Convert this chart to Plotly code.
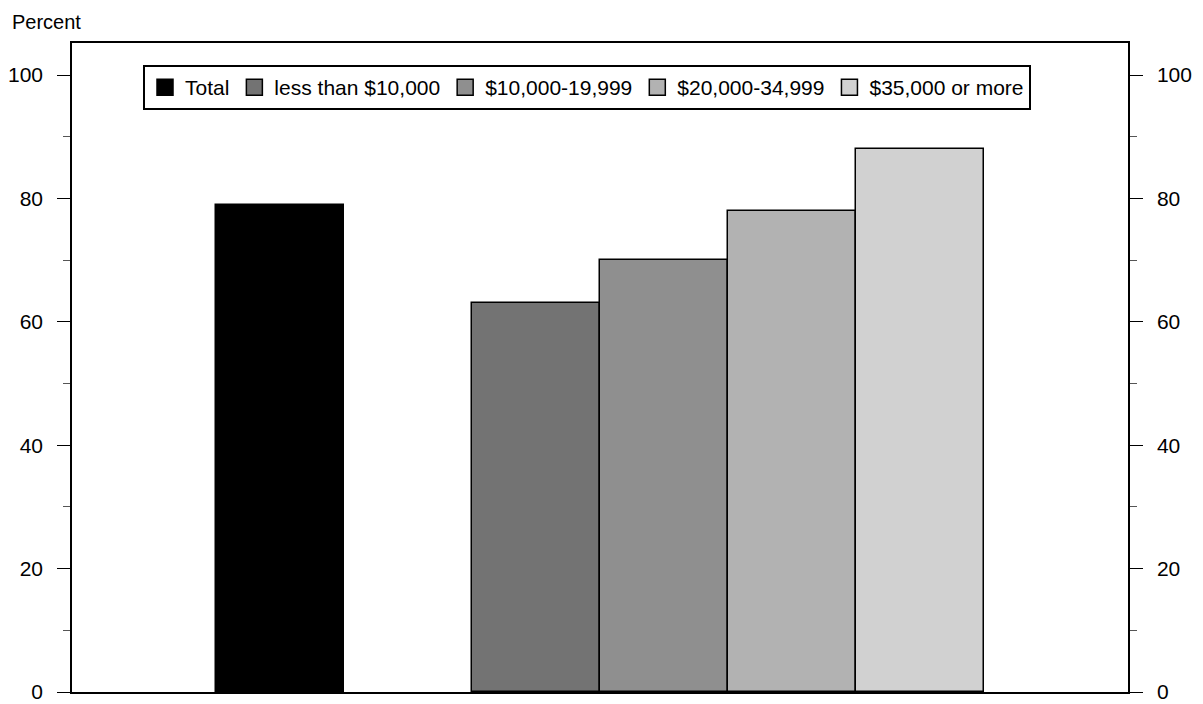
import plotly.graph_objects as go

categories = ["Total", "less than $10,000", "$10,000-19,999", "$20,000-34,999", "$35,000 or more"]
values = [79, 63, 70, 78, 88]
colors = ["#000000", "#737373", "#8f8f8f", "#b2b2b2", "#d1d1d1"]
y_ticks = [0, 20, 40, 60, 80, 100]

# bar positions: Total alone, income groups adjacent after a gap
positions = [0, 2, 3, 4, 5]

FONT = "Liberation Sans, Arial, sans-serif"

fig = go.Figure()
for cat, val, col, pos in zip(categories, values, colors, positions):
    fig.add_trace(go.Bar(
        x=[pos], y=[val], width=1.0, name=cat,
        marker=dict(color=col, line=dict(color="black", width=1.5)),
        showlegend=False, hoverinfo="name+y",
    ))
# legend proxies (larger square symbols)
for cat, col in zip(categories, colors):
    fig.add_trace(go.Scatter(
        x=[None], y=[None], mode="markers", name=cat,
        marker=dict(symbol="square", size=16, color=col, line=dict(color="black", width=1.5)),
    ))
# invisible trace for right axis
fig.add_trace(go.Scatter(x=[0], y=[0], yaxis="y2", mode="markers",
                         marker=dict(opacity=0), showlegend=False, hoverinfo="skip"))

yax = dict(
    range=[0, 105.2], tickvals=y_ticks, ticks="outside", ticklen=13, tickwidth=1.2,
    tickcolor="black", showgrid=False, zeroline=False, showline=True, linecolor="black",
    linewidth=1.5, tickfont=dict(family=FONT, size=21, color="black"),
    ticklabelstandoff=10, automargin=False,
    minor=dict(tickvals=[10, 30, 50, 70, 90], ticks="outside", ticklen=7, tickcolor="#555", tickwidth=1.2),
)
fig.update_layout(
    width=1195, height=696,
    margin=dict(l=64, r=75, t=35, b=12, autoexpand=False),
    paper_bgcolor="white", plot_bgcolor="white",
    font=dict(family=FONT, size=21, color="black"),
    bargap=0,
    xaxis=dict(range=[-1.625, 6.625], showticklabels=False, ticks="", showgrid=False,
               zeroline=False, showline=True, mirror=True, linecolor="black", linewidth=1.5,
               automargin=False),
    yaxis=yax,
    yaxis2=dict(yax, overlaying="y", side="right", anchor="x"),
    legend=dict(orientation="h", x=0.4877, xanchor="center", y=0.966, yanchor="top",
                bordercolor="black", borderwidth=2, bgcolor="white",
                font=dict(family=FONT, size=21, color="black")),
    annotations=[dict(text="Percent", xref="paper", yref="paper", x=-62/1056, y=(649+35-1)/649,
                      xanchor="left", yanchor="top", showarrow=False,
                      font=dict(family=FONT, size=20, color="black"))],
)

fig.write_html("out.html")
